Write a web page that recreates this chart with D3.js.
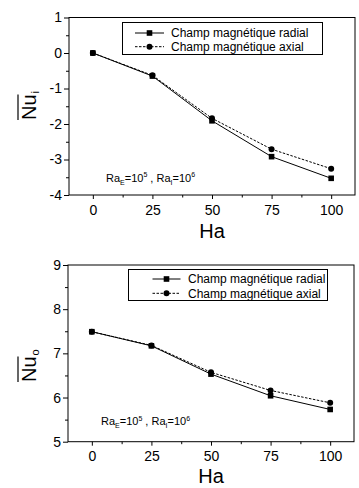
<!DOCTYPE html>
<html><head><meta charset="utf-8">
<script src="https://cdn.jsdelivr.net/npm/d3@7"></script>
<style>
html,body{margin:0;padding:0;background:#fff;}
svg{display:block;font-family:Arial,"Liberation Sans",sans-serif;}
</style></head>
<body>
<svg id="c" width="359" height="488"></svg>
<script>
// ---- data ----
const ha = [0, 25, 50, 75, 100];
const xTicks = [0, 25, 50, 75, 100];
const xMinor = [12.5, 37.5, 62.5, 87.5];
const seriesNames = ["Champ magnétique radial", "Champ magnétique axial"];
const nuiRadial = [0, -0.65, -1.91, -2.92, -3.53];
const nuiAxial = [0, -0.63, -1.84, -2.71, -3.26];
const nuoRadial = [7.49, 7.17, 6.53, 6.04, 5.73];
const nuoAxial = [7.49, 7.18, 6.57, 6.16, 5.88];
const yTicksTop = [-4, -3, -2, -1, 0, 1];
const yTicksBottom = [5, 6, 7, 8, 9];
const xTitle = "Ha";

const svg = d3.select("#c");
const fmt = d => String(d);

function panel(o) {
  const x = d3.scaleLinear().domain([-10, 110]).range([o.left, o.right]);
  const y = d3.scaleLinear().domain(o.yDomain).range([o.bottom, o.top]);
  const g = svg.append("g");
  // frame
  g.append("rect").attr("x", o.left).attr("y", o.top)
    .attr("width", o.right - o.left).attr("height", o.bottom - o.top)
    .attr("fill", "none").attr("stroke", "#000").attr("stroke-width", 1);
  // x axis
  const xa = g.append("g").attr("transform", `translate(0,${o.bottom})`)
    .call(d3.axisBottom(x).tickValues(xTicks).tickSize(4).tickPadding(o.xPad).tickFormat(fmt));
  xa.select(".domain").remove();
  xa.selectAll("text").attr("font-size", 14).attr("font-family", "Arial, 'Liberation Sans', sans-serif").attr("fill", "#000");
  const xm = g.append("g").attr("transform", `translate(0,${o.bottom})`)
    .call(d3.axisBottom(x).tickValues(xMinor).tickSize(2.5).tickFormat(""));
  xm.select(".domain").remove();
  // y axis
  const ya = g.append("g").attr("transform", `translate(${o.left},0)`)
    .call(d3.axisLeft(y).tickValues(o.yTicks).tickSize(5).tickPadding(2).tickFormat(fmt));
  ya.select(".domain").remove();
  ya.selectAll("text").attr("font-size", 14).attr("font-family", "Arial, 'Liberation Sans', sans-serif").attr("fill", "#000");
  const minorY = d3.range(o.yDomain[0] + 0.5, o.yDomain[1], 1);
  const ym = g.append("g").attr("transform", `translate(${o.left},0)`)
    .call(d3.axisLeft(y).tickValues(minorY).tickSize(3).tickFormat(""));
  ym.select(".domain").remove();
  g.selectAll(".tick line").attr("stroke", "#000");

  // lines
  const line = d3.line().x((d, i) => x(ha[i])).y(d => y(d));
  g.append("path").datum(o.axial).attr("d", line).attr("fill", "none")
    .attr("stroke", "#000").attr("stroke-width", 1).attr("stroke-dasharray", "2.5,1.5");
  g.append("path").datum(o.radial).attr("d", line).attr("fill", "none")
    .attr("stroke", "#000").attr("stroke-width", 1);
  g.selectAll(".sq").data(o.radial).enter().append("rect")
    .attr("x", (d, i) => x(ha[i]) - 2.8).attr("y", d => y(d) - 2.8)
    .attr("width", 5.6).attr("height", 5.6).attr("fill", "#000");
  g.selectAll(".ci").data(o.axial).enter().append("circle")
    .attr("cx", (d, i) => x(ha[i])).attr("cy", d => y(d)).attr("r", 3).attr("fill", "#000");

  // legend
  const L = o.legend;
  g.append("rect").attr("x", L.x0).attr("y", L.y0).attr("width", L.x1 - L.x0).attr("height", L.y1 - L.y0)
    .attr("fill", "#fff").attr("stroke", "#000").attr("stroke-width", 1);
  [0, 1].forEach(k => {
    const ly = L.rows[k];
    g.append("line").attr("x1", L.lx0).attr("x2", L.lx1).attr("y1", ly).attr("y2", ly)
      .attr("stroke", "#000").attr("stroke-width", 1).attr("stroke-dasharray", k ? "2.5,1.5" : null);
    const mx = (L.lx0 + L.lx1) / 2;
    if (k === 0) g.append("rect").attr("x", mx - 2.8).attr("y", ly - 2.8).attr("width", 5.6).attr("height", 5.6).attr("fill", "#000");
    else g.append("circle").attr("cx", mx).attr("cy", ly).attr("r", 3).attr("fill", "#000");
    g.append("text").attr("x", L.tx).attr("y", ly + 4.3).attr("font-size", 12).text(seriesNames[k]);
  });

  // annotation
  const an = g.append("text").attr("x", o.annX).attr("y", o.annY).attr("font-size", 11);
  an.append("tspan").text("Ra");
  an.append("tspan").attr("font-size", 7).attr("dy", 3).text("E");
  an.append("tspan").attr("dy", -3).text("=10");
  an.append("tspan").attr("font-size", 7).attr("dy", -4.5).text("5");
  an.append("tspan").attr("dy", 4.5).text(" , Ra");
  an.append("tspan").attr("font-size", 7).attr("dy", 3).text("I");
  an.append("tspan").attr("dy", -3).text("=10");
  an.append("tspan").attr("font-size", 7).attr("dy", -4.5).text("6");

  // x title
  g.append("text").attr("x", (x(0) + x(100)) / 2).attr("y", o.titleY).attr("text-anchor", "middle")
    .attr("font-size", 20).text(xTitle);

  // y title with overline
  const yt = g.append("g").attr("transform", `translate(${o.ytX},${o.ytY}) rotate(-90)`);
  const t = yt.append("text").attr("x", 0).attr("y", 0).attr("font-size", 20);
  const nu = t.append("tspan").text("Nu");
  t.append("tspan").attr("font-size", 11).attr("dy", 3).attr("dx", 1).text(o.sub);
  const w = nu.node().getComputedTextLength();
  yt.append("line").attr("x1", 0).attr("x2", w).attr("y1", -18).attr("y2", -18)
    .attr("stroke", "#000").attr("stroke-width", 1.2);
}

panel({
  left: 69, right: 355, top: 17.5, bottom: 195, yDomain: [-4, 1], yTicks: yTicksTop,
  radial: nuiRadial, axial: nuiAxial, xPad: 6,
  legend: { x0: 122.5, x1: 322.5, y0: 22.5, y1: 54.5, rows: [33, 46.7], lx0: 135, lx1: 164, tx: 171 },
  annX: 106, annY: 181.5, titleY: 238, ytX: 36, ytY: 120, sub: "i"
});
panel({
  left: 68, right: 354, top: 265, bottom: 441.7, yDomain: [5, 9], yTicks: yTicksBottom,
  radial: nuoRadial, axial: nuoAxial, xPad: 5,
  legend: { x0: 128.5, x1: 327.5, y0: 269.5, y1: 300.5, rows: [279, 293.3], lx0: 152.5, lx1: 180.5, tx: 188 },
  annX: 101, annY: 425, titleY: 483, ytX: 36, ytY: 382, sub: "o"
});
</script>
</body></html>
